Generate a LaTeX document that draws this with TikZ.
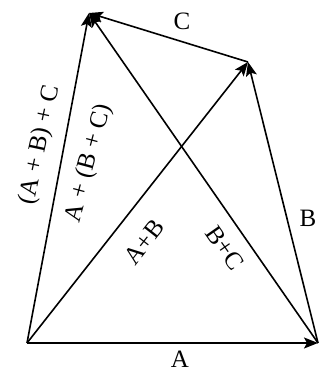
\documentclass[tikz,border=0pt]{standalone}
\usepackage{fontspec}
\setmainfont{Liberation Serif}
\usetikzlibrary{arrows.meta}
\tikzset{every picture/.append style={line width=1.6pt}}
\tikzset{vec/.style={-{Stealth[length=14pt,width=11pt,inset=3pt]}},
  lbl/.style={font=\fontsize{25}{30}\selectfont, inner sep=1pt}}

\begin{document}
\begin{tikzpicture}[x=1pt,y=-1pt]
  \useasboundingbox (0,0) rectangle (322,372);

  % Corners
  \coordinate (O) at (27,343);
  \coordinate (P) at (318,343);
  \coordinate (Q) at (248,62);
  \coordinate (R) at (89,13);

  % Head to tail: A, B, C
  \draw[vec] (O) -- (P);
  \draw[vec] (P) -- (Q);
  \draw[vec] (Q) -- (R);

  % Sums
  \draw[vec] (O) -- (Q);
  \draw[vec] (P) -- (R);
  \draw[vec] (O) -- (R);

  % Labels
  \node[lbl] (labA) at (180,359) {A};
  \node[lbl] (labB) at (308,218) {B};
  \node[lbl] (labC) at (182,21) {C};
  \node[lbl, rotate=52] (labAB) at (144,242) {A+B};
  \node[lbl, rotate=-55] (labBC) at (225,248) {B+C};
  \node[lbl, rotate=78] (labABC) at (40,145) {(A + B) + C};
  \node[lbl, rotate=75] (labAparBC) at (89,163) {A + (B + C)};
\end{tikzpicture}
\end{document}
